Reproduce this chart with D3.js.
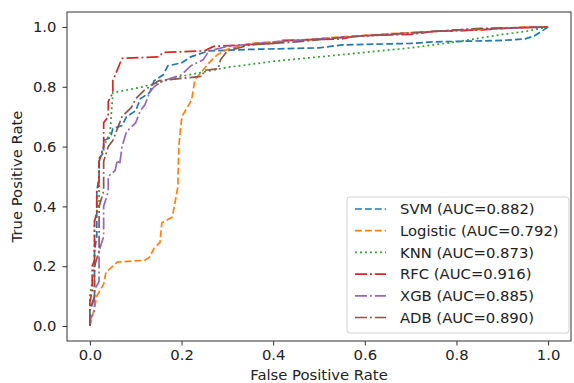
<!DOCTYPE html>
<html>
<head>
<meta charset="utf-8">
<script src="https://cdn.jsdelivr.net/npm/d3@7"></script>
<style>
  html, body { margin: 0; padding: 0; background: #fff; }
  svg { display: block; font-family: "DejaVu Sans", sans-serif; }
</style>
</head>
<body>
<div id="chart"></div>
<script>
// ---- data (fpr, tpr) ----
const seriesNames = ["SVM", "Logistic", "KNN", "RFC", "XGB", "ADB"];
const aucValues = ["0.882", "0.792", "0.873", "0.916", "0.885", "0.890"];

const svmFpr = [0,0,0.01,0.01,0.015,0.015,0.02,0.02,0.03,0.03,0.045,0.05,0.07,0.08,0.1,0.11,0.13,0.14,0.16,0.17,0.2,0.22,0.26,0.35,0.5,0.55,0.7,0.75,0.9,0.95,0.97,1];
const svmTpr = [0,0.05,0.1,0.25,0.3,0.45,0.5,0.56,0.58,0.62,0.63,0.66,0.67,0.7,0.72,0.76,0.78,0.82,0.84,0.87,0.88,0.9,0.92,0.925,0.93,0.94,0.945,0.95,0.955,0.96,0.97,1];

const logFpr = [0,0.005,0.01,0.015,0.03,0.035,0.05,0.06,0.12,0.13,0.14,0.153,0.157,0.18,0.192,0.194,0.2,0.203,0.222,0.229,0.247,0.26,0.277,0.3,0.35,0.45,0.55,0.65,0.75,0.85,0.95,1];
const logTpr = [0,0.03,0.06,0.1,0.14,0.18,0.2,0.214,0.22,0.23,0.26,0.28,0.345,0.365,0.465,0.6,0.69,0.706,0.756,0.823,0.856,0.88,0.906,0.925,0.945,0.955,0.967,0.977,0.985,0.99,1,1];

const knnFpr = [0,0,0.01,0.01,0.02,0.02,0.03,0.044,0.05,0.116,0.2,0.3,0.4,0.5,0.6,0.7,0.8,0.9,0.95,1];
const knnTpr = [0,0.1,0.2,0.35,0.42,0.55,0.6,0.645,0.78,0.80,0.835,0.865,0.885,0.9,0.915,0.93,0.95,0.975,0.985,1];

const rfcFpr = [0,0,0.005,0.005,0.01,0.01,0.015,0.015,0.02,0.02,0.03,0.03,0.04,0.04,0.05,0.05,0.07,0.15,0.16,0.25,0.27,0.4,0.42,0.55,0.58,0.7,0.75,0.85,0.9,1];
const rfcTpr = [0,0.08,0.12,0.2,0.22,0.35,0.38,0.45,0.48,0.55,0.6,0.68,0.7,0.75,0.78,0.82,0.895,0.9,0.915,0.92,0.935,0.945,0.955,0.96,0.97,0.975,0.985,0.99,0.995,1];

const xgbFpr = [0,0,0.01,0.01,0.02,0.02,0.03,0.03,0.04,0.04,0.055,0.06,0.065,0.07,0.08,0.1,0.11,0.12,0.13,0.14,0.16,0.2,0.22,0.247,0.26,0.3,0.4,0.5,0.6,0.7,0.8,0.9,1];
const xgbTpr = [0,0.02,0.05,0.12,0.15,0.25,0.3,0.4,0.45,0.5,0.52,0.555,0.54,0.6,0.65,0.68,0.72,0.74,0.78,0.8,0.82,0.84,0.87,0.89,0.92,0.935,0.95,0.96,0.97,0.98,0.99,0.995,1];

const adbFpr = [0,0,0.01,0.01,0.02,0.02,0.03,0.03,0.04,0.05,0.06,0.07,0.09,0.1,0.12,0.14,0.15,0.245,0.25,0.28,0.285,0.3,0.35,0.45,0.55,0.65,0.75,0.85,1];
const adbTpr = [0,0.05,0.1,0.2,0.25,0.4,0.45,0.55,0.6,0.62,0.66,0.7,0.73,0.76,0.79,0.81,0.82,0.835,0.855,0.86,0.89,0.92,0.94,0.95,0.965,0.975,0.985,0.995,1];

const fprLists = [svmFpr, logFpr, knnFpr, rfcFpr, xgbFpr, adbFpr];
const tprLists = [svmTpr, logTpr, knnTpr, rfcTpr, xgbTpr, adbTpr];
const seriesColors = ["#1f77b4", "#ff7f0e", "#2ca02c", "#d62728", "#9467bd", "#8c564b"];
const seriesDash = ["6.9,3", "6.9,3", "1.9,3.1", "12,3,1.9,3", "12,3,1.9,3", "12,3,1.9,3"];

const xTicks = [0, 0.2, 0.4, 0.6, 0.8, 1.0];
const yTicks = [0, 0.2, 0.4, 0.6, 0.8, 1.0];

// ---- layout ----
const W = 574, H = 383;
const mLeft = 67, mRight = 571, mTop = 12, mBottom = 341;
const FS = "14.8px";

const svg = d3.select("#chart").append("svg").attr("width", W).attr("height", H);

const x = d3.scaleLinear().domain([-0.05, 1.05]).range([mLeft, mRight]);
const y = d3.scaleLinear().domain([-0.05, 1.05]).range([mBottom, mTop]);

// curves
const line = d3.line().x(d => x(d[0])).y(d => y(d[1]));
const plot = svg.append("g");
seriesNames.forEach((name, i) => {
  const pts = fprLists[i].map((f, j) => [f, tprLists[i][j]]);
  plot.append("path")
    .datum(pts)
    .attr("d", line)
    .attr("fill", "none")
    .attr("stroke", seriesColors[i])
    .attr("stroke-width", 1.7)
    .attr("stroke-dasharray", seriesDash[i]);
});

// axes
const fmt = d3.format(".1f");
const xAxis = svg.append("g").attr("transform", `translate(0,${mBottom})`)
  .call(d3.axisBottom(x).tickValues(xTicks).tickFormat(fmt).tickSize(4.5).tickPadding(4));
const yAxis = svg.append("g").attr("transform", `translate(${mLeft},0)`)
  .call(d3.axisLeft(y).tickValues(yTicks).tickFormat(fmt).tickSize(4.5).tickPadding(6));
[xAxis, yAxis].forEach(a => {
  a.select(".domain").remove();
  a.selectAll("line").attr("stroke", "#333").attr("stroke-width", 1);
  a.selectAll("text").attr("fill", "#222").style("font-size", FS).style("font-family", "DejaVu Sans");
});

// frame
svg.append("rect").attr("x", mLeft).attr("y", mTop)
  .attr("width", mRight - mLeft).attr("height", mBottom - mTop)
  .attr("fill", "none").attr("stroke", "#333").attr("stroke-width", 1);

// axis labels
svg.append("text").attr("x", (mLeft + mRight) / 2).attr("y", 379.5)
  .attr("text-anchor", "middle").style("font-size", FS).attr("fill", "#222")
  .text("False Positive Rate");
svg.append("text").attr("transform", `translate(22,${(mTop + mBottom) / 2}) rotate(-90)`)
  .attr("text-anchor", "middle").style("font-size", FS).attr("fill", "#222")
  .text("True Positive Rate");

// legend
const lg = svg.append("g");
const lgX = 347, lgY = 197, lgW = 222, lgH = 136, rowH = 21.7;
lg.append("rect").attr("x", lgX).attr("y", lgY).attr("width", lgW).attr("height", lgH)
  .attr("rx", 3).attr("fill", "#fff").attr("fill-opacity", 0.85)
  .attr("stroke", "#d0d0d0").attr("stroke-width", 1);
seriesNames.forEach((name, i) => {
  const cy = lgY + 12 + i * rowH;
  lg.append("line").attr("x1", lgX + 8).attr("x2", lgX + 39).attr("y1", cy).attr("y2", cy)
    .attr("stroke", seriesColors[i]).attr("stroke-width", 1.7)
    .attr("stroke-dasharray", seriesDash[i]);
  lg.append("text").attr("x", lgX + 53).attr("y", cy).attr("dy", "0.36em")
    .style("font-size", FS).attr("fill", "#222")
    .text(`${name} (AUC=${aucValues[i]})`);
});
</script>
</body>
</html>
